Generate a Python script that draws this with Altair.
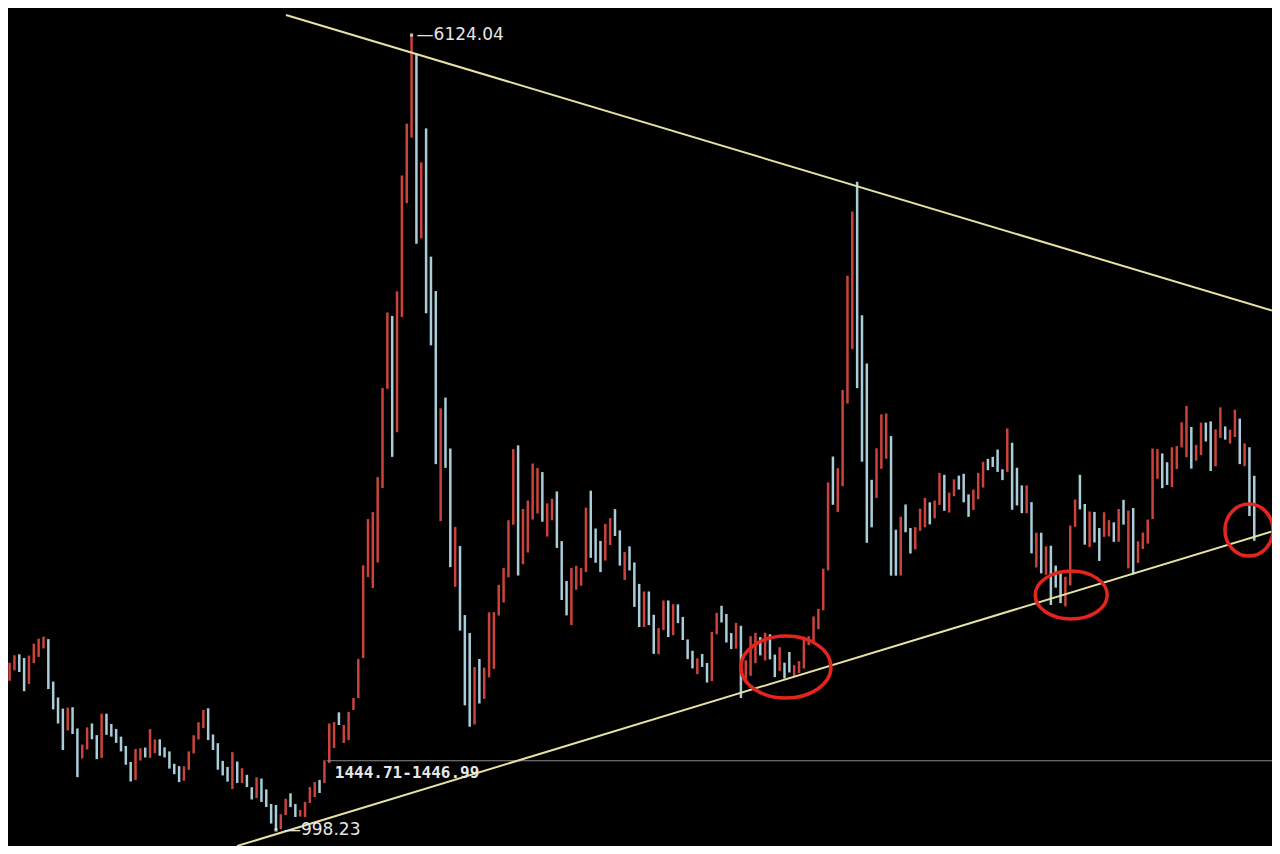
import altair as alt
import pandas as pd

# ---- monthly candles, Sep 2000 .. Apr 2022 (index 0 = 2000-09) ----
high = [
    2114, 1995, 2077, 2125,
    2131, 2107, 2123, 2200, 2232, 2245, 2229, 1955, 1853, 1781, 1787, 1790,
    1653, 1549, 1660, 1685, 1610, 1748, 1748, 1682, 1650, 1600, 1540, 1437,
    1521, 1526, 1530, 1649, 1582, 1583, 1531, 1505, 1425, 1410, 1409, 1505,
    1609, 1693, 1772, 1783, 1614, 1558, 1444, 1405, 1500, 1440, 1397, 1354,
    1274, 1338, 1330, 1260, 1166, 1159, 1100, 1200, 1235, 1166, 1127, 1179,
    1275, 1308, 1321, 1448, 1685, 1694, 1757, 1675, 1760, 1849, 2101, 2705,
    3003, 3048, 3274, 3848, 4335, 4312, 4471, 5218, 5552, 6124.04, 6005, 5303,
    5522, 4695, 4473, 3717, 3786, 3458, 2952, 2829, 2384, 2268, 2049, 2101,
    2045, 2402, 2403, 2579, 2688, 2995, 3454, 3478, 3068, 3123, 3361, 3332,
    3306, 3104, 3134, 3181, 2861, 2604, 2688, 2702, 2687, 3077, 3186, 2942,
    2862, 2972, 3009, 3067, 2930, 2790, 2827, 2723, 2585, 2536, 2536, 2386,
    2300, 2478, 2478, 2454, 2453, 2372, 2227, 2154, 2105, 2133, 2075, 2276,
    2398, 2444, 2391, 2268, 2334, 2315, 2092, 2248, 2270, 2242, 2270, 2260,
    2129, 2177, 2077, 2146, 2061, 2087, 2228, 2248, 2375, 2424, 2683, 3239,
    3406, 3331, 3835, 4572, 4986, 5178, 4317, 4006, 3256, 3459, 3678, 3684,
    3538, 2934, 3018, 3097, 2945, 2951, 3070, 3140, 3111, 3122, 3301, 3288,
    3174, 3259, 3283, 3295, 3162, 3193, 3301, 3372, 3391, 3404, 3451, 3324,
    3587, 3495, 3334, 3220, 3220, 3112, 2915, 2915, 2827, 2831, 2703, 2659,
    2631, 2961, 3129, 3288, 3100, 3052, 3049, 2945, 3047, 2996, 2982, 3068,
    3127, 3058, 3074, 2860, 2916, 3000, 3458, 3454, 3426, 3369, 3466, 3474,
    3627, 3732, 3597, 3481, 3625, 3625, 3633, 3581, 3723, 3600, 3579, 3708,
    3651, 3491, 3466, 3282,
]
low = [
    1874, 1906, 1960, 2028,
    2017, 1893, 1940, 2074, 2114, 2169, 1907, 1776, 1685, 1514, 1640, 1617,
    1339, 1460, 1517, 1583, 1455, 1463, 1612, 1600, 1560, 1505, 1419, 1311,
    1320, 1446, 1466, 1463, 1493, 1477, 1466, 1394, 1358, 1307, 1316, 1386,
    1492, 1582, 1655, 1578, 1514, 1387, 1350, 1310, 1262, 1301, 1301, 1275,
    1195, 1204, 1179, 1146, 1040, 998.23, 1004, 1095, 1146, 1082, 1085, 1082,
    1172, 1211, 1237, 1301, 1430, 1527, 1675, 1559, 1578, 1772, 1849, 2107,
    2629, 2558, 2723, 3203, 3842, 3404, 3563, 4306, 5040, 5462, 4778, 4812,
    4330, 4123, 3357, 2990, 3333, 2693, 2566, 2284, 1802, 1664, 1678, 1814,
    1844, 1982, 2037, 2381, 2465, 2628, 2966, 2639, 2712, 2787, 3000, 3039,
    2986, 2890, 2995, 2817, 2481, 2382, 2319, 2547, 2573, 2661, 2753, 2721,
    2661, 2735, 2836, 2894, 2703, 2610, 2672, 2437, 2307, 2307, 2319, 2134,
    2132, 2287, 2242, 2254, 2332, 2223, 2100, 2040, 2003, 2050, 1949, 1959,
    2260, 2336, 2207, 2165, 2167, 1849, 1950, 1992, 2074, 2124, 2091, 2098,
    1984, 2024, 1975, 2014, 1991, 2010, 2039, 2190, 2217, 2293, 2415, 2672,
    3095, 3049, 3215, 3748, 4099, 3847, 3373, 2850, 2950, 3139, 3327, 3392,
    2638, 2638, 2639, 2918, 2781, 2807, 2927, 2950, 2969, 3008, 3094, 3056,
    3045, 3150, 3193, 3111, 3017, 3062, 3131, 3206, 3318, 3339, 3307, 3254,
    3307, 3063, 3091, 3041, 3041, 2782, 2691, 2653, 2644, 2449, 2561, 2461,
    2440, 2575, 2953, 3065, 2838, 2822, 2852, 2733, 2888, 2891, 2856, 2857,
    2967, 2685, 2646, 2720, 2810, 2845, 3003, 3263, 3202, 3223, 3209, 3325,
    3465, 3402, 3328, 3380, 3415, 3503, 3313, 3343, 3526, 3515, 3490, 3532,
    3357, 3344, 3023, 2863,
]
up = [
    0, 1, 1, 1,
    0, 0, 1, 1, 1, 1, 0, 0, 0, 0, 1, 0,
    0, 1, 1, 0, 0, 1, 0, 0, 0, 0, 0, 0,
    1, 1, 0, 1, 1, 0, 0, 0, 0, 0, 1, 1,
    1, 1, 1, 0, 0, 0, 0, 0, 1, 0, 1, 0,
    0, 1, 0, 0, 0, 0, 1, 1, 0, 0, 1, 1,
    1, 1, 0, 1, 1, 1, 0, 1, 1, 1, 1, 1,
    1, 1, 1, 1, 1, 0, 1, 1, 1, 1, 0, 1,
    0, 0, 0, 1, 0, 0, 1, 0, 0, 0, 1, 0,
    1, 1, 1, 1, 1, 1, 1, 0, 1, 1, 1, 1,
    0, 1, 1, 0, 0, 0, 1, 1, 1, 1, 0, 0,
    0, 1, 1, 0, 0, 1, 0, 0, 0, 1, 0, 0,
    1, 1, 0, 1, 0, 0, 0, 0, 1, 0, 0, 1,
    1, 0, 0, 0, 1, 0, 1, 1, 1, 0, 1, 0,
    0, 1, 0, 0, 1, 1, 1, 1, 1, 1, 1, 1,
    0, 1, 1, 1, 1, 0, 0, 0, 0, 1, 1, 1,
    0, 0, 1, 0, 0, 1, 1, 1, 0, 1, 1, 0,
    1, 1, 0, 0, 0, 1, 1, 1, 0, 0, 0, 0,
    1, 0, 0, 0, 1, 0, 1, 0, 1, 0, 0, 0,
    1, 1, 1, 0, 0, 1, 0, 0, 1, 1, 0, 1,
    0, 1, 0, 1, 1, 1, 1, 1, 0, 0, 1, 1,
    1, 1, 0, 1, 1, 0, 0, 1, 1, 0, 1, 1,
    0, 1, 0, 0,
]
months = [str(p) for p in pd.period_range("2000-09", periods=len(high), freq="M")]

# ---- annotations (month index, price) ----
trend_x1 = [59.07, 48.96]
trend_p1 = [6252.9, 895.1]
trend_x2 = [262.66, 262.66]
trend_p2 = [4347.0, 2923.4]

level_price = 1444.71
level_x1 = [67.5]
level_x2 = [262.66]
level_label = "1444.71-1446.99"

peak_i, peak_p = 85, 6124.04
trough_i, trough_p = 57, 998.23

ell_i = [162.3, 221.2, 257.9]
ell_p = [2049, 2513, 2932]
ell_rx = [45, 36, 24]   # half-widths in px
ell_ry = [31, 24, 26]   # half-heights in px

RED = "#cb433b"
BLUE = "#a9cdd9"
YELLOW = "#e6e2a2"
CIRCLE = "#e3241f"
TXT = "#e6e6e6"

df = pd.DataFrame({
    "i": list(range(len(high))),
    "month": months,
    "high": high,
    "low": low,
    "dir": ["up" if u else "down" for u in up],
})

xs = alt.Scale(domain=[1.67, 262.66], nice=False, zero=False)
ys = alt.Scale(domain=[895.1, 6298.0], nice=False, zero=False)
X = lambda f: alt.X(f, type="quantitative", scale=xs, axis=None)
Y = lambda f: alt.Y(f, type="quantitative", scale=ys, axis=None)

bars = alt.Chart(df).mark_rule(strokeWidth=2.5, clip=True).encode(
    x=X("i"),
    y=Y("low"),
    y2="high",
    color=alt.Color("dir:N", scale=alt.Scale(domain=["up", "down"], range=[RED, BLUE]), legend=None),
)

tdf = pd.DataFrame({"x1": trend_x1, "p1": trend_p1, "x2": trend_x2, "p2": trend_p2})
trends = alt.Chart(tdf).mark_rule(color=YELLOW, strokeWidth=2, clip=True).encode(
    x=X("x1"), y=Y("p1"), x2="x2", y2="p2"
)

ldf = pd.DataFrame({"x1": level_x1, "x2": level_x2, "p": [level_price], "t": [level_label]})
level = alt.Chart(ldf).mark_rule(color="#8a8a8a", strokeWidth=1, clip=True).encode(
    x=X("x1"), x2="x2", y=Y("p")
)
level_txt = alt.Chart(ldf).mark_text(
    align="left", baseline="top", dx=8, dy=4, font="DejaVu Sans Mono", fontSize=16,
    fontWeight="bold", color=TXT
).encode(x=X("x1"), y=Y("p"), text="t:N")

pdf = pd.DataFrame({"i": [peak_i, trough_i], "p": [peak_p, trough_p],
                    "t": ["\u2014" + f"{peak_p:.2f}", "\u2014" + f"{trough_p:.2f}"]})
marks = alt.Chart(pdf).mark_point(shape="square", size=10, filled=True, color="#ffffff").encode(
    x=X("i"), y=Y("p")
)
peak_txt = alt.Chart(pdf.iloc[[0]]).mark_text(
    align="left", baseline="middle", dx=5, font="DejaVu Sans", fontSize=17, color=TXT
).encode(x=X("i"), y=Y("p"), text="t:N")
low_txt = alt.Chart(pdf.iloc[[1]]).mark_text(
    align="left", baseline="middle", dx=8, font="DejaVu Sans", fontSize=17, color=TXT
).encode(x=X("i"), y=Y("p"), text="t:N")


def ellipse_path(rx, ry):
    k = 0.5523
    a = ry / rx
    return (f"M 1 0 C 1 {k*a:.4f} {k:.4f} {a:.4f} 0 {a:.4f} "
            f"C {-k:.4f} {a:.4f} -1 {k*a:.4f} -1 0 "
            f"C -1 {-k*a:.4f} {-k:.4f} {-a:.4f} 0 {-a:.4f} "
            f"C {k:.4f} {-a:.4f} 1 {-k*a:.4f} 1 0 Z")


ellipses = []
for ci, cp, rx, ry in zip(ell_i, ell_p, ell_rx, ell_ry):
    edf = pd.DataFrame({"i": [ci], "p": [cp]})
    ellipses.append(
        alt.Chart(edf).mark_point(
            shape=ellipse_path(rx, ry), size=(2 * rx) ** 2, filled=False,
            stroke=CIRCLE, strokeWidth=3.5, opacity=1
        ).encode(x=X("i"), y=Y("p"))
    )

chart = alt.layer(bars, level, trends, level_txt, marks, peak_txt, low_txt, *ellipses).properties(
    width=1264, height=838,
    autosize=alt.AutoSizeParams(type="none"),
    padding=0,
    background="#000000",
).configure_view(stroke=None, fill="#000000")

chart.save("out.html", embed_options={"renderer": "svg", "actions": False})
